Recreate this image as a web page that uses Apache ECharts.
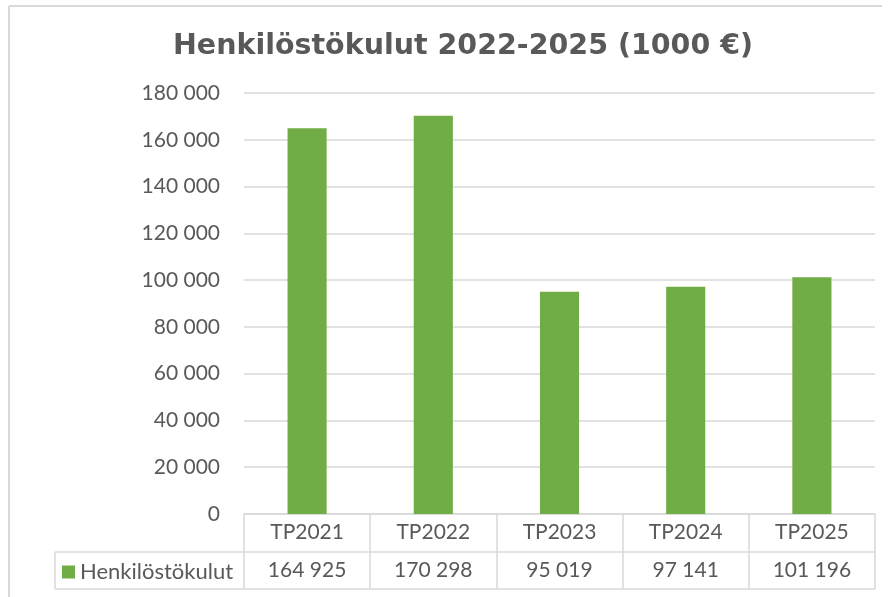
<!DOCTYPE html>
<html>
<head>
<meta charset="utf-8">
<script src="https://cdn.jsdelivr.net/npm/echarts@6/dist/echarts.min.js"></script>
<style>html,body{margin:0;padding:0;background:#fff}#c{width:893px;height:597px}</style>
</head>
<body>
<div id="c"></div>
<script>
const titleText = 'Henkilöstökulut 2022-2025 (1000 €)';
const seriesName = 'Henkilöstökulut';
const categories = ['TP2021', 'TP2022', 'TP2023', 'TP2024', 'TP2025'];
const values = [164925, 170298, 95019, 97141, 101196];
const yMin = 0, yMax = 180000, yStep = 20000;

const fmt = v => String(v).replace(/\B(?=(\d{3})+(?!\d))/g, ' ');
const GRAY = '#595959', LINE = '#d9d9d9', GREEN = '#70AD47';
const FONT = 'Lato';

const chart = echarts.init(document.getElementById('c'), null, {renderer: 'canvas'});
const lineStyle = {stroke: LINE, lineWidth: 1.5};
chart.setOption({
  animation: false,
  backgroundColor: '#fff',
  title: {
    text: titleText, left: 458, top: 27, textAlign: 'center',
    textStyle: {fontFamily: 'DejaVu Sans', fontWeight: 'bold', fontSize: 28.5, color: GRAY}
  },
  legend: {
    data: [seriesName], left: 62, top: 561, icon: 'rect', itemWidth: 13, itemHeight: 13,
    padding: 0, itemGap: 0,
    textStyle: {color: GRAY, fontFamily: FONT, fontSize: 22}
  },
  grid: {left: 244, right: 18, top: 93, bottom: 83},
  xAxis: [{
    type: 'category', data: categories,
    axisLine: {lineStyle: {color: LINE, width: 1.5}},
    axisTick: {show: true, length: 75, lineStyle: {color: LINE, width: 1.5}},
    axisLabel: {color: GRAY, fontFamily: FONT, fontSize: 21, margin: 8}
  }, {
    type: 'category', data: categories, position: 'bottom', offset: 38,
    axisLine: {show: false}, axisTick: {show: false},
    axisLabel: {color: GRAY, fontFamily: FONT, fontSize: 21, margin: 8,
      formatter: (v, i) => fmt(values[i])}
  }],
  yAxis: {
    type: 'value', min: yMin, max: yMax, interval: yStep,
    axisLine: {show: false}, axisTick: {show: false},
    axisLabel: {color: GRAY, fontFamily: FONT, fontSize: 21, margin: 24, formatter: v => fmt(v)},
    splitLine: {lineStyle: {color: LINE, width: 1.5}}
  },
  series: [{
    name: seriesName, type: 'bar', data: values, barWidth: '31%',
    itemStyle: {color: GREEN}
  }],
  graphic: [
    {type: 'line', shape: {x1: 9, y1: 6, x2: 882, y2: 6}, style: {stroke: LINE, lineWidth: 2}},
    {type: 'line', shape: {x1: 9, y1: 6, x2: 9, y2: 597}, style: {stroke: LINE, lineWidth: 2}},
    {type: 'line', shape: {x1: 55, y1: 552, x2: 875, y2: 552}, style: lineStyle},
    {type: 'line', shape: {x1: 55, y1: 589, x2: 875, y2: 589}, style: lineStyle},
    {type: 'line', shape: {x1: 55, y1: 552, x2: 55, y2: 589}, style: lineStyle}
  ]
});
</script>
</body>
</html>
